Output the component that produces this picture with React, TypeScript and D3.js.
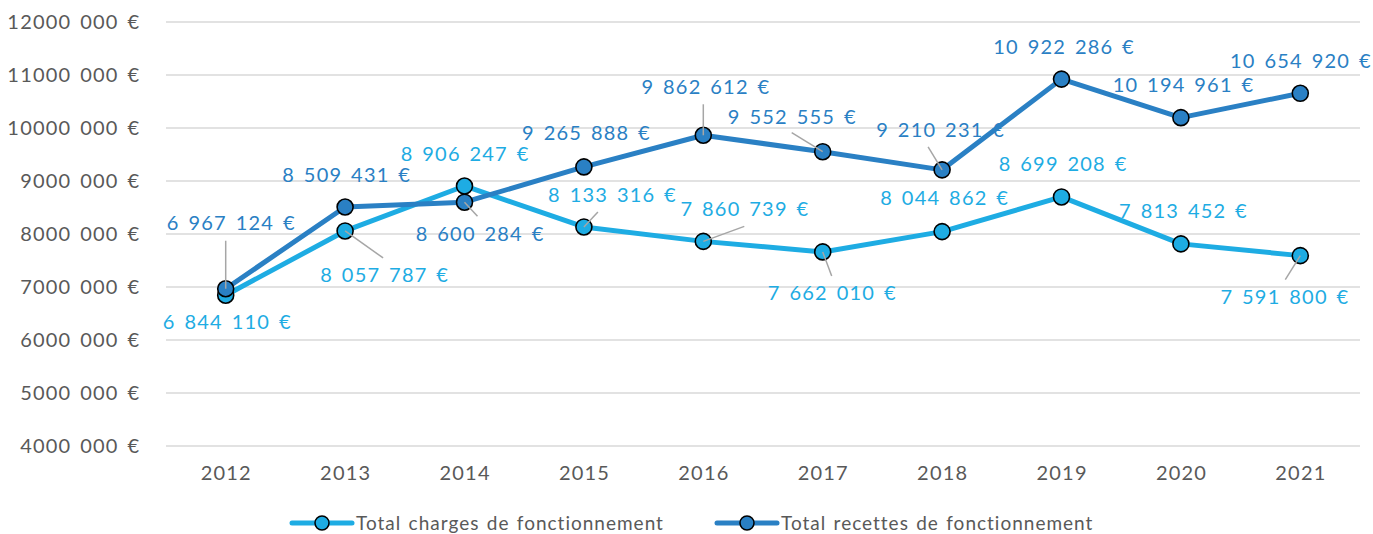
import React, { useEffect, useRef } from "react";
import * as d3 from "d3";

const years = ["2012", "2013", "2014", "2015", "2016", "2017", "2018", "2019", "2020", "2021"];
const charges = [6844110, 8057787, 8906247, 8133316, 7860739, 7662010, 8044862, 8699208, 7813452, 7591800];
const recettes = [6967124, 8509431, 8600284, 9265888, 9862612, 9552555, 9210231, 10922286, 10194961, 10654920];
const yTicks = [4000000, 5000000, 6000000, 7000000, 8000000, 9000000, 10000000, 11000000, 12000000];
const seriesNames = ["Total charges de fonctionnement", "Total recettes de fonctionnement"];

// label placement offsets (px) relative to the point, and leader-line start offsets
const chargesLabelOffsets: [number, number][] = [[1, 27], [39, 44], [0, -32], [28, -32], [41, -32], [9, 41], [2, -34], [1, -33], [2, -33], [-16, 41]];
const recettesLabelOffsets: [number, number][] = [[5, -66], [1, -32], [15, 32], [2, -34], [2, -48], [-31, -35], [-2, -40], [2, -32], [2, -33], [0, -32]];
const chargesLeaders: ([number, number] | null)[] = [null, [38, 27], null, [14, -15], [41, -15], [9, 24], null, null, null, [-15, 24]];
const recettesLeaders: ([number, number] | null)[] = [[0, -48], null, [13, 14], null, [0, -31], [-31, -19], [-14, -23], null, null, null];

const W = 1373, H = 534;
const COLORS = ["#1EACE3", "#2A80C4"];
const FONT = "Lato, 'Noto Sans', sans-serif";
const LS = 1.2, WS = 2.5;

function fmt(v: number) {
  const s = String(Math.round(v));
  return s.replace(/\B(?=(\d{3})+(?!\d))/g, " ") + " €";
}
function fmtTick(v: number) {
  const s = String(v);
  const head = s.slice(0, s.length - 3);
  const tail = s.slice(s.length - 3);
  return head + " " + tail + " €";
}

export default function App() {
  const ref = useRef<SVGSVGElement>(null);
  useEffect(() => {
    const svg = d3.select(ref.current);
    svg.selectAll("*").remove();
    const x = d3.scaleBand().domain(years).range([166, 1360]);
    const y = d3.scaleLinear().domain([4000000, 12000000]).range([446, 22]);
    const cx = (i: number) => (x(years[i]) as number) + x.bandwidth() / 2;

    const styleText = (sel: any, size: number, fill: string, ls = LS, ws = WS) =>
      sel.attr("font-family", FONT).attr("font-size", size).attr("fill", fill)
        .attr("letter-spacing", ls).attr("word-spacing", ws);

    svg.append("g").selectAll("line").data(yTicks).join("line")
      .attr("x1", 166).attr("x2", 1360)
      .attr("y1", d => y(d)).attr("y2", d => y(d))
      .attr("stroke", "#D9D9D9").attr("stroke-width", 1.5);

    styleText(svg.append("g").selectAll("text").data(yTicks).join("text")
      .attr("x", 139 + LS).attr("y", d => y(d)).attr("dy", "0.35em")
      .attr("text-anchor", "end").text(d => fmtTick(d)), 20, "#595959");

    styleText(svg.append("g").selectAll("text").data(years).join("text")
      .attr("x", (d, i) => cx(i) + LS / 2).attr("y", 473).attr("dy", "0.35em")
      .attr("text-anchor", "middle").text(d => d), 20, "#595959");

    const all = [
      { vals: charges, color: COLORS[0], offs: chargesLabelOffsets, leaders: chargesLeaders },
      { vals: recettes, color: COLORS[1], offs: recettesLabelOffsets, leaders: recettesLeaders },
    ];
    const line = d3.line<number>().x((d, i) => cx(i)).y(d => y(d));
    all.forEach(s => {
      const g = svg.append("g");
      g.append("path").attr("d", line(s.vals) as string).attr("fill", "none")
        .attr("stroke", s.color).attr("stroke-width", 5).attr("stroke-linejoin", "round");
      g.selectAll("circle").data(s.vals).join("circle")
        .attr("cx", (d, i) => cx(i)).attr("cy", d => y(d)).attr("r", 8)
        .attr("fill", s.color).attr("stroke", "#000").attr("stroke-width", 1.6);
    });
    all.forEach(s => {
      const g = svg.append("g");
      s.vals.forEach((v, i) => {
        const l = s.leaders[i];
        if (l) {
          g.append("line").attr("x1", cx(i) + l[0]).attr("y1", y(v) + l[1])
            .attr("x2", cx(i)).attr("y2", y(v)).attr("stroke", "#A6A6A6").attr("stroke-width", 1.5);
        }
      });
      styleText(g.selectAll("text").data(s.vals).join("text")
        .attr("x", (d, i) => cx(i) + s.offs[i][0] + LS / 2).attr("y", (d, i) => y(d) + s.offs[i][1])
        .attr("dy", "0.35em").attr("text-anchor", "middle")
        .text(d => fmt(d)), 20, s.color);
    });

    const legendX = [292, 717];
    const lg = svg.append("g");
    seriesNames.forEach((name, i) => {
      const lx = legendX[i], ly = 523;
      lg.append("line").attr("x1", lx).attr("x2", lx + 60).attr("y1", ly).attr("y2", ly)
        .attr("stroke", COLORS[i]).attr("stroke-width", 5).attr("stroke-linecap", "round");
      lg.append("circle").attr("cx", lx + 30).attr("cy", ly).attr("r", 7)
        .attr("fill", COLORS[i]).attr("stroke", "#000").attr("stroke-width", 1.5);
      styleText(lg.append("text").attr("x", lx + 64).attr("y", ly).attr("dy", "0.35em").text(name), 19, "#595959", 1.0, 1.5);
    });
  }, []);
  return <svg ref={ref} width={W} height={H} style={{ position: "absolute", left: 0, top: 0, background: "#fff" }} />;
}
